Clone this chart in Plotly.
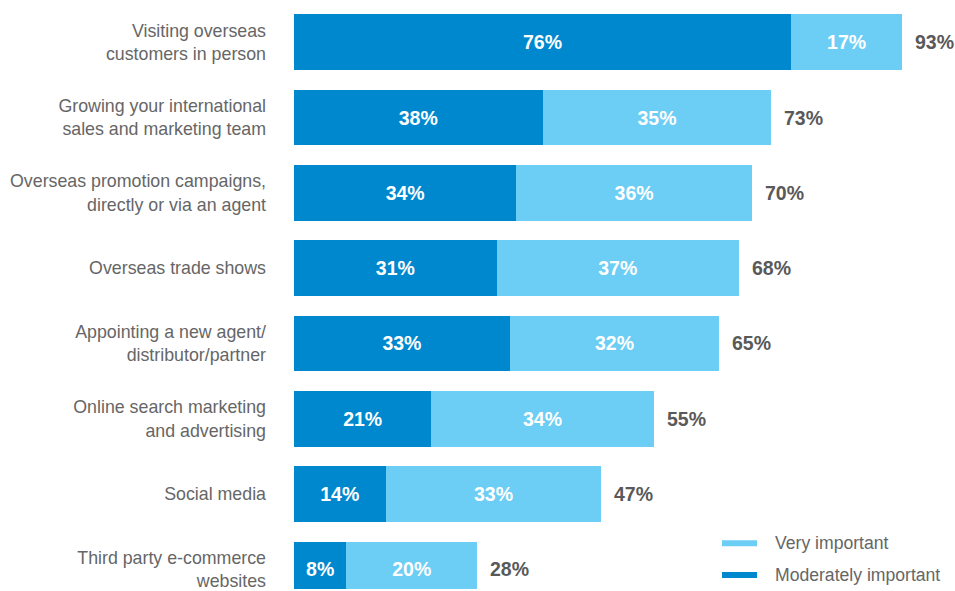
import plotly.graph_objects as go

categories = [
    "Visiting overseas<br>customers in person",
    "Growing your international<br>sales and marketing team",
    "Overseas promotion campaigns,<br>directly or via an agent",
    "Overseas trade shows",
    "Appointing a new agent/<br>distributor/partner",
    "Online search marketing<br>and advertising",
    "Social media",
    "Third party e-commerce<br>websites",
]
moderately = [76, 38, 34, 31, 33, 21, 14, 8]
very = [17, 35, 36, 37, 32, 34, 33, 20]
totals = [93, 73, 70, 68, 65, 55, 47, 28]
legend_names = ["Very important", "Moderately important"]

DARK = "#0088CE"
LIGHT = "#6CCDF5"
GREY = "#666666"
FONT = "Liberation Sans, Arial, sans-serif"

fig = go.Figure()

for vals, color in ((moderately, DARK), (very, LIGHT)):
    fig.add_trace(go.Bar(
        y=categories, x=vals, orientation="h",
        marker=dict(color=color, line=dict(width=0)),
        text=[f"{v}%" for v in vals], textposition="inside",
        insidetextanchor="middle", constraintext="none",
        textfont=dict(color="white", size=19.5, family=FONT, weight="bold"),
        width=0.74, showlegend=False, hoverinfo="skip",
    ))

# total labels at the end of each bar
for cat, t in zip(categories, totals):
    fig.add_annotation(
        x=t, y=cat, text=f"{t}%", showarrow=False,
        xanchor="left", xshift=11,
        font=dict(color="#595959", size=19.5, family=FONT, weight="bold"),
    )

px_per_unit = 6.54
left, plot_w, height = 294, 955 - 294, 591


def px(xp):
    return (xp - left) / plot_w


def py(yp):
    return 1 - yp / height


# legend: short thick swatches with labels
for name, color, yp in zip(legend_names, (LIGHT, DARK), (545, 577)):
    fig.add_shape(type="line", xref="paper", yref="paper",
                  x0=px(722), x1=px(757), y0=py(yp), y1=py(yp),
                  line=dict(color=color, width=6))
    fig.add_annotation(xref="paper", yref="paper", x=px(773), y=py(yp),
                       text=name, showarrow=False, xanchor="left",
                       yanchor="middle",
                       font=dict(size=17.6, color=GREY, family=FONT))

fig.update_layout(
    width=955, height=591,
    margin=dict(l=left, r=0, t=0, b=0),
    paper_bgcolor="white", plot_bgcolor="white",
    barmode="stack", showlegend=False,
    font=dict(family=FONT, color=GREY, size=17),
    xaxis=dict(range=[0, plot_w / px_per_unit], visible=False, fixedrange=True),
    yaxis=dict(
        type="category", range=[7.26, -0.56],
        showgrid=False, zeroline=False, showline=False, ticks="",
        ticklabelstandoff=27,
        tickfont=dict(size=17.8, color=GREY, family=FONT),
    ),
)

fig.write_html("out.html")
